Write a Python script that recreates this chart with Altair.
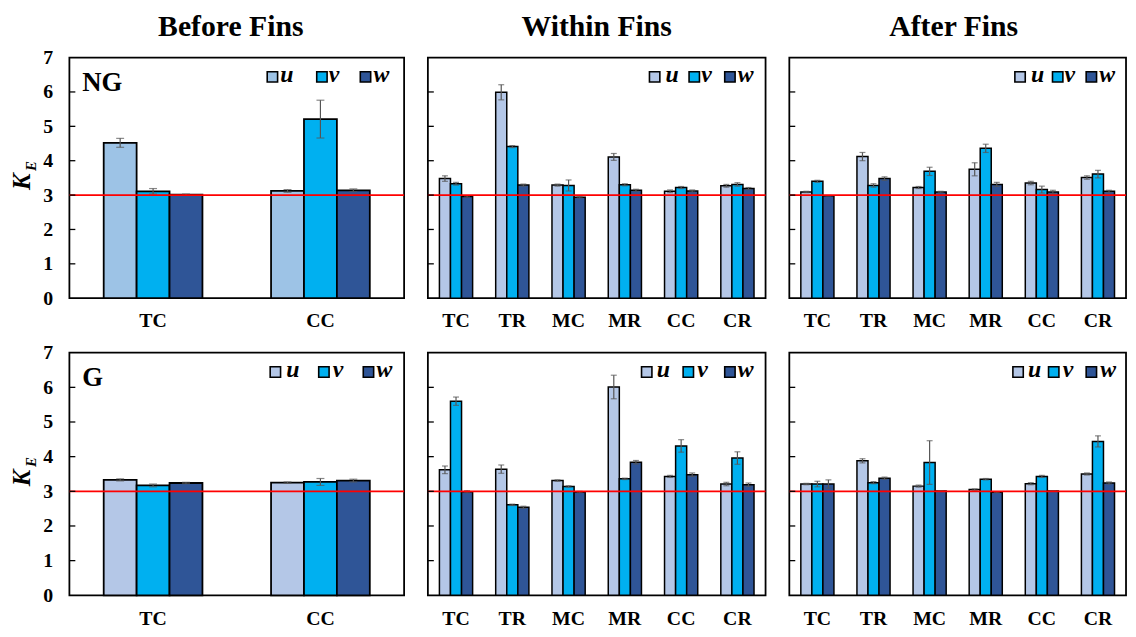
import altair as alt
import pandas as pd

SERIF = "Liberation Serif"

components = ["u", "v", "w"]
cats_before = ["TC", "CC"]
cats_fins = ["TC", "TR", "MC", "MR", "CC", "CR"]
y_ticks = [1, 2, 3, 4, 5, 6]
ref_level = [3.0]

col_titles = ["Before Fins", "Within Fins", "After Fins"]
row_labels = ["NG", "G"]

color_v = "#00B0F0"
color_w = "#2F5597"
color_u_ng_before = "#9DC3E6"
color_u_other = "#B4C7E7"

# ---- NG, Before Fins ----
ng_before_u = [4.52, 3.12]
ng_before_v = [3.11, 5.21]
ng_before_w = [3.01, 3.14]
ng_before_u_err = [0.13, 0.04]
ng_before_v_err = [0.08, 0.55]
ng_before_w_err = [0.02, 0.04]

# ---- NG, Within Fins ----
ng_within_u = [3.48, 5.99, 3.29, 4.11, 3.11, 3.27]
ng_within_v = [3.33, 4.41, 3.28, 3.30, 3.22, 3.31]
ng_within_w = [2.96, 3.29, 2.94, 3.14, 3.12, 3.19]
ng_within_u_err = [0.08, 0.22, 0.03, 0.10, 0.04, 0.04]
ng_within_v_err = [0.04, 0.03, 0.16, 0.03, 0.03, 0.05]
ng_within_w_err = [0.02, 0.03, 0.02, 0.03, 0.03, 0.03]

# ---- NG, After Fins ----
ng_after_u = [3.09, 4.12, 3.22, 3.75, 3.35, 3.51]
ng_after_v = [3.40, 3.28, 3.69, 4.36, 3.16, 3.61]
ng_after_w = [2.98, 3.48, 3.09, 3.31, 3.09, 3.11]
ng_after_u_err = [0.02, 0.12, 0.03, 0.19, 0.05, 0.05]
ng_after_v_err = [0.03, 0.05, 0.12, 0.12, 0.10, 0.11]
ng_after_w_err = [0.01, 0.05, 0.02, 0.06, 0.05, 0.03]

# ---- G, Before Fins ----
g_before_u = [3.33, 3.25]
g_before_v = [3.17, 3.27]
g_before_w = [3.24, 3.31]
g_before_u_err = [0.03, 0.02]
g_before_v_err = [0.04, 0.10]
g_before_w_err = [0.02, 0.04]

# ---- G, Within Fins ----
g_within_u = [3.62, 3.64, 3.31, 6.01, 3.43, 3.21]
g_within_v = [5.60, 2.61, 3.14, 3.36, 4.31, 3.96]
g_within_w = [2.99, 2.54, 2.98, 3.84, 3.48, 3.19]
g_within_u_err = [0.11, 0.12, 0.02, 0.34, 0.03, 0.05]
g_within_v_err = [0.12, 0.02, 0.02, 0.02, 0.18, 0.18]
g_within_w_err = [0.03, 0.03, 0.02, 0.05, 0.05, 0.05]

# ---- G, After Fins ----
g_after_u = [3.21, 3.88, 3.15, 3.05, 3.22, 3.50]
g_after_v = [3.21, 3.25, 3.83, 3.35, 3.43, 4.44]
g_after_w = [3.21, 3.38, 3.01, 2.97, 3.01, 3.24]
g_after_u_err = [0.02, 0.06, 0.03, 0.02, 0.03, 0.03]
g_after_v_err = [0.08, 0.03, 0.63, 0.02, 0.03, 0.16]
g_after_w_err = [0.12, 0.03, 0.01, 0.01, 0.01, 0.03]


def make_panel(cats, vals, errs, u_color, width, height, legend_sq, legend_tx,
               title=None, title_dx=0, label=None, show_y=False, bar_sw=1.5, cap=7):
    rows = []
    for ci, comp in enumerate(components):
        for k, c in enumerate(cats):
            v = vals[ci][k]
            e = errs[ci][k]
            rows.append({"cat": c, "comp": comp, "val": v, "lo": v - e, "hi": v + e})
    df = pd.DataFrame(rows)

    xenc = alt.X("cat:N", sort=cats,
                 scale=alt.Scale(domain=cats, paddingInner=0.41, paddingOuter=0.205),
                 axis=alt.Axis(title=None, labelAngle=0, ticks=False, domain=False,
                               labelPadding=13, labelFont=SERIF, labelFontSize=20,
                               labelFontWeight="bold", labelColor="black"))
    xoff = alt.XOffset("comp:N", sort=components,
                       scale=alt.Scale(domain=components, paddingInner=0, paddingOuter=0))
    yscale = alt.Scale(domain=[0, 7], nice=False, zero=True)
    yaxis = alt.Axis(title=None, values=list(range(8)), ticks=False, domain=False,
                     grid=False, labels=show_y, labelPadding=17, labelFont=SERIF,
                     labelFontSize=20, labelFontWeight="bold", labelColor="black")
    cscale = alt.Scale(domain=components, range=[u_color, color_v, color_w])

    base = alt.Chart(df)
    bars = base.mark_bar(stroke="black", strokeWidth=bar_sw).encode(
        x=xenc, xOffset=xoff,
        y=alt.Y("val:Q", scale=yscale, axis=yaxis),
        color=alt.Color("comp:N", sort=components, scale=cscale, legend=None),
    )
    err_rule = base.mark_rule(color="#555555", strokeWidth=1.2).encode(
        x=xenc, xOffset=xoff,
        y=alt.Y("lo:Q", scale=yscale, axis=yaxis), y2="hi:Q",
    )
    caps = base.transform_fold(["lo", "hi"], as_=["kind", "val"]).mark_tick(
        color="#555555", thickness=1.2, size=cap).encode(
        x=xenc, xOffset=xoff,
        y=alt.Y("val:Q", scale=yscale, axis=yaxis),
    )
    red = alt.Chart(pd.DataFrame({"val": ref_level})).mark_rule(
        color="#FF0000", strokeWidth=1.8).encode(
        y=alt.Y("val:Q", scale=yscale, axis=yaxis))
    ticks = alt.Chart(pd.DataFrame({"val": y_ticks})).mark_rule(
        color="black", strokeWidth=1.3).encode(
        y=alt.Y("val:Q", scale=yscale, axis=yaxis), x=alt.value(0), x2=alt.value(6))

    # legend (drawn inside the plot, top-right)
    leg = pd.DataFrame({"comp": components, "sx": legend_sq, "tx": legend_tx})
    leg_sq = alt.Chart(leg).mark_square(size=110, stroke="black", strokeWidth=1.6,
                                        opacity=1, filled=True).encode(
        x=alt.X("sx:Q", scale=None, axis=None), y=alt.value(19.5),
        color=alt.Color("comp:N", sort=components, scale=cscale, legend=None))
    leg_tx = alt.Chart(leg).mark_text(align="left", baseline="middle", font=SERIF,
                                      fontSize=24, fontWeight="bold", fontStyle="italic",
                                      color="black").encode(
        x=alt.X("tx:Q", scale=None, axis=None), y=alt.value(17.5), text="comp:N")

    layers = [bars, err_rule, caps, red, ticks, leg_sq, leg_tx]
    if label is not None:
        layers.append(alt.Chart(pd.DataFrame({"t": [label]})).mark_text(
            align="left", baseline="middle", font=SERIF, fontSize=27,
            fontWeight="bold", color="black").encode(
            text="t:N", x=alt.value(13), y=alt.value(26)))
    if title is not None:
        layers.append(alt.Chart(pd.DataFrame({"t": [title]})).mark_text(
            align="center", baseline="middle", font=SERIF, fontSize=30,
            fontWeight="bold", color="black").encode(
            text="t:N", x=alt.value(width / 2 + title_dx), y=alt.value(-31)))
    if show_y:
        layers.append(alt.Chart(pd.DataFrame({"t": ["K"]})).mark_text(
            align="center", baseline="alphabetic", angle=270, font=SERIF, fontSize=25,
            fontWeight="bold", fontStyle="italic", color="black").encode(
            text="t:N", x=alt.value(-40), y=alt.value(height / 2 + 4)))
        layers.append(alt.Chart(pd.DataFrame({"t": ["E"]})).mark_text(
            align="center", baseline="alphabetic", angle=270, font=SERIF, fontSize=15,
            fontWeight="bold", fontStyle="italic", color="black").encode(
            text="t:N", x=alt.value(-34), y=alt.value(height / 2 - 12)))

    return alt.layer(*layers).properties(width=width, height=height)


p_ng_before = make_panel(cats_before, [ng_before_u, ng_before_v, ng_before_w],
                         [ng_before_u_err, ng_before_v_err, ng_before_w_err],
                         color_u_ng_before, 338, 243, [205, 255, 299], [213, 262, 307],
                         title=col_titles[0], title_dx=-6, label=row_labels[0],
                         show_y=True, bar_sw=1.8, cap=8)
p_ng_within = make_panel(cats_fins, [ng_within_u, ng_within_v, ng_within_w],
                         [ng_within_u_err, ng_within_v_err, ng_within_w_err],
                         color_u_other, 341, 243, [229, 269, 305], [240, 276, 313],
                         title=col_titles[1], cap=6)
p_ng_after = make_panel(cats_fins, [ng_after_u, ng_after_v, ng_after_w],
                        [ng_after_u_err, ng_after_v_err, ng_after_w_err],
                        color_u_other, 340, 243, [233, 271, 305], [244, 278, 313],
                        title=col_titles[2], title_dx=-4, cap=6)
p_g_before = make_panel(cats_before, [g_before_u, g_before_v, g_before_w],
                        [g_before_u_err, g_before_v_err, g_before_w_err],
                        color_u_other, 338, 245, [208, 257, 302], [219, 266, 310],
                        label=row_labels[1], show_y=True, bar_sw=1.8, cap=8)
p_g_within = make_panel(cats_fins, [g_within_u, g_within_v, g_within_w],
                        [g_within_u_err, g_within_v_err, g_within_w_err],
                        color_u_other, 341, 245, [221, 263, 305], [231, 272, 313], cap=6)
p_g_after = make_panel(cats_fins, [g_after_u, g_after_v, g_after_w],
                       [g_after_u_err, g_after_v_err, g_after_w_err],
                       color_u_other, 340, 245, [231, 267, 305], [241, 276, 314], cap=6)

RES = dict(x="independent", y="independent", xOffset="independent", color="independent")

row1 = alt.hconcat(p_ng_before, p_ng_within, p_ng_after, spacing=20).resolve_scale(**RES)
row2 = alt.hconcat(p_g_before, p_g_within, p_g_after, spacing=20).resolve_scale(**RES)

chart = alt.vconcat(row1, row2, spacing=10).resolve_scale(**RES).properties(
    padding={"left": 1, "top": 0, "right": 0, "bottom": 0},
    background="white",
).configure_view(stroke="black", strokeWidth=1.8)

chart.save("out.html", embed_options={"renderer": "svg", "actions": False})
